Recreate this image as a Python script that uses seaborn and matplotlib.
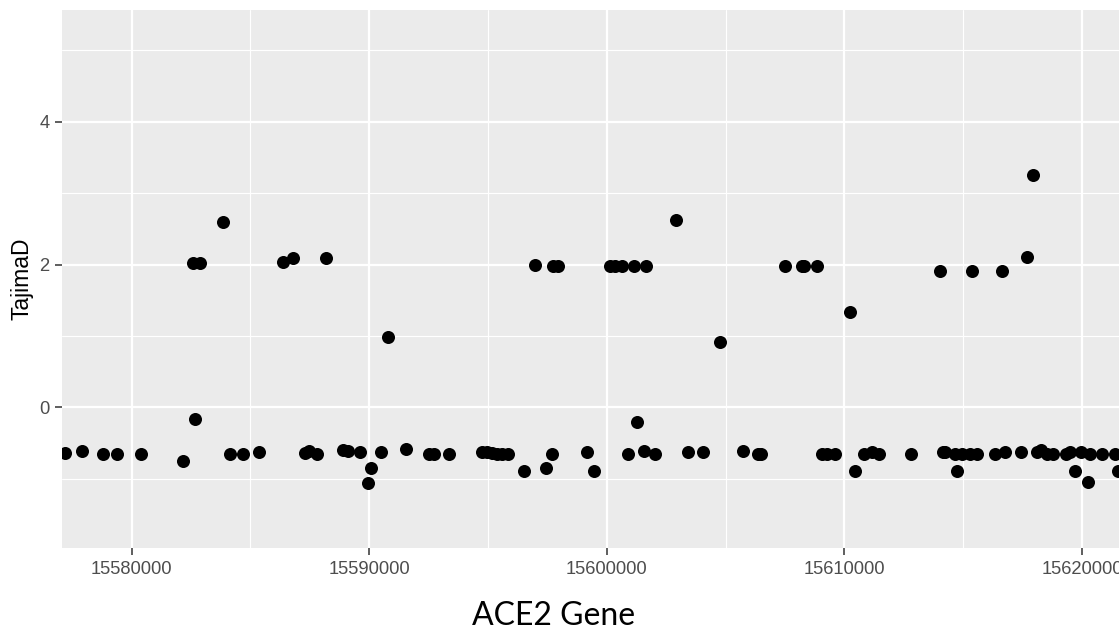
import matplotlib
matplotlib.use("Agg")
import matplotlib.pyplot as plt
from matplotlib.ticker import MultipleLocator
import seaborn as sns
import pandas as pd

# window positions along the ACE2 region and Tajima's D for each one
position = [15577190, 15577900, 15578800, 15579370, 15580390, 15582170, 15582570, 15582680,
            15582880, 15583830, 15584140, 15584670, 15585360, 15586360, 15586800, 15587290,
            15587480, 15587790, 15588180, 15588900, 15589100, 15589610, 15589960, 15590070,
            15590480, 15590800, 15591530, 15592530, 15592740, 15593360, 15594730, 15594960,
            15595170, 15595380, 15595590, 15595830, 15596530, 15596980, 15597430, 15597680,
            15597720, 15597960, 15599150, 15599470, 15600130, 15600340, 15600620, 15600900,
            15601140, 15601260, 15601580, 15601630, 15602030, 15602910, 15603430, 15604060,
            15604760, 15605740, 15606340, 15606490, 15607500, 15608200, 15608310, 15608860,
            15609040, 15609250, 15609600, 15610230, 15610440, 15610840, 15611150, 15611450,
            15612800, 15614020, 15614140, 15614230, 15614650, 15614720, 15614940, 15615280,
            15615370, 15615570, 15616340, 15616640, 15616760, 15617420, 15617670, 15617920,
            15618090, 15618270, 15618540, 15618790, 15619330, 15619490, 15619700, 15619960,
            15620230, 15620340, 15620850, 15621390, 15621530]
tajima_d = [-0.64, -0.61, -0.65, -0.65, -0.65, -0.75, 2.02, -0.17,
            2.02, 2.60, -0.65, -0.65, -0.63, 2.04, 2.09, -0.64,
            -0.61, -0.65, 2.09, -0.60, -0.61, -0.63, -1.06, -0.85,
            -0.63, 0.98, -0.59, -0.65, -0.65, -0.65, -0.63, -0.63,
            -0.64, -0.65, -0.65, -0.65, -0.89, 2.00, -0.85, -0.65,
            1.98, 1.98, -0.63, -0.89, 1.98, 1.98, 1.98, -0.65,
            1.98, -0.21, -0.61, 1.98, -0.65, 2.62, -0.63, -0.63,
            0.92, -0.61, -0.65, -0.65, 1.98, 1.98, 1.98, 1.98,
            -0.65, -0.65, -0.65, 1.34, -0.89, -0.65, -0.63, -0.65,
            -0.65, 1.91, -0.62, -0.63, -0.65, -0.89, -0.65, -0.65,
            1.91, -0.65, -0.65, 1.91, -0.63, -0.63, 2.11, 3.26,
            -0.62, -0.60, -0.65, -0.65, -0.65, -0.63, -0.89, -0.63,
            -1.04, -0.65, -0.65, -0.65, -0.89]
x_ticks = [15580000, 15590000, 15600000, 15610000, 15620000]
y_ticks = [0, 2, 4]

df = pd.DataFrame({"pos": position, "TajimaD": tajima_d})

sns.set_theme(style="darkgrid", rc={"axes.facecolor": "#EBEBEB", "grid.color": "white"})
plt.rcParams["font.family"] = ["Liberation Sans", "DejaVu Sans"]

fig = plt.figure(figsize=(11.19, 6.31), dpi=100)
ax = fig.add_axes([62 / 1119, 1 - 548 / 631, 1 - 62 / 1119, 538 / 631])

sns.scatterplot(data=df, x="pos", y="TajimaD", color="black", s=88, linewidth=0, ax=ax, zorder=3)

ax.set_xlim(15577067, 15621553)
ax.set_ylim(-1.97, 5.564)
ax.set_xticks(x_ticks)
ax.set_xticklabels([str(t) for t in x_ticks])
ax.set_yticks(y_ticks)
ax.xaxis.set_minor_locator(MultipleLocator(5000))
ax.yaxis.set_minor_locator(MultipleLocator(1))
ax.grid(which="major", color="white", linewidth=1.6)
ax.grid(which="minor", color="white", linewidth=0.8)
ax.tick_params(which="major", length=5, width=1.1, color="#333333", labelcolor="#4D4D4D",
               labelsize=13.2, bottom=True, left=True, pad=4)
ax.tick_params(which="minor", length=0)
for s in ax.spines.values():
    s.set_visible(False)

ax.set_xlabel("")
ax.set_ylabel("TajimaD", fontsize=16.5, color="black", labelpad=4)

fig.text(554 / 1119, 1 - 625 / 631, "ACE2 Gene", ha="center", va="baseline",
         fontsize=23, family=["Lato", "DejaVu Sans"], color="black")

fig.savefig("out.png", dpi=100)
